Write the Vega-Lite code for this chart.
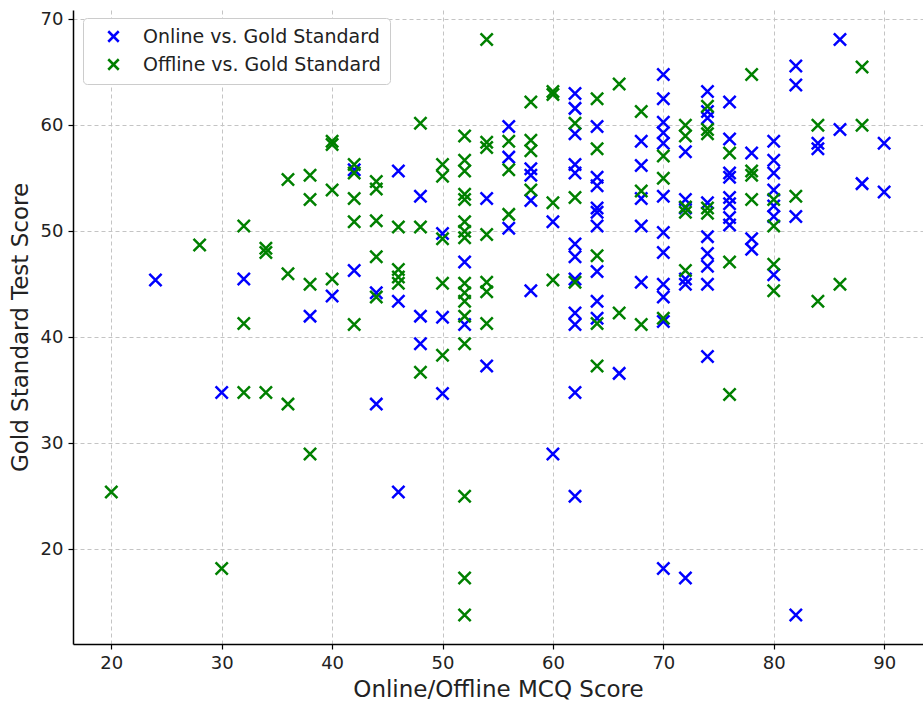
{
  "$schema": "https://vega.github.io/schema/vega-lite/v6.json",
  "width": 850,
  "height": 634,
  "autosize": {"type": "none"},
  "padding": {"left": 73, "top": 10, "right": 0, "bottom": 62},
  "background": "white",
  "config": {
    "view": {"stroke": null},
    "font": "DejaVu Sans",
    "axis": {
      "domainColor": "#000000",
      "domainWidth": 1.5,
      "tickColor": "#000000",
      "tickSize": 5,
      "tickWidth": 1.2,
      "gridColor": "#c4c4c4",
      "gridDash": [4, 3],
      "gridWidth": 1,
      "labelFont": "DejaVu Sans",
      "labelFontSize": 18,
      "labelColor": "#222222",
      "titleFont": "DejaVu Sans",
      "titleFontSize": 23,
      "titleFontWeight": "normal",
      "titleColor": "#222222"
    }
  },
  "datasets": {
    "pts": [
      {"series":"Online","x":24,"y":45.4},
      {"series":"Online","x":30,"y":34.8},
      {"series":"Online","x":32,"y":45.5},
      {"series":"Online","x":38,"y":42.0},
      {"series":"Online","x":40,"y":43.9},
      {"series":"Online","x":42,"y":55.8},
      {"series":"Online","x":42,"y":46.3},
      {"series":"Online","x":44,"y":44.2},
      {"series":"Online","x":44,"y":33.7},
      {"series":"Online","x":46,"y":55.7},
      {"series":"Online","x":46,"y":43.4},
      {"series":"Online","x":46,"y":25.4},
      {"series":"Online","x":48,"y":53.3},
      {"series":"Online","x":48,"y":42.0},
      {"series":"Online","x":48,"y":39.4},
      {"series":"Online","x":50,"y":49.8},
      {"series":"Online","x":50,"y":41.9},
      {"series":"Online","x":50,"y":34.7},
      {"series":"Online","x":52,"y":47.1},
      {"series":"Online","x":52,"y":41.2},
      {"series":"Online","x":54,"y":53.1},
      {"series":"Online","x":54,"y":37.3},
      {"series":"Online","x":56,"y":59.9},
      {"series":"Online","x":56,"y":57.0},
      {"series":"Online","x":56,"y":50.3},
      {"series":"Online","x":58,"y":55.9},
      {"series":"Online","x":58,"y":55.3},
      {"series":"Online","x":58,"y":52.9},
      {"series":"Online","x":58,"y":44.4},
      {"series":"Online","x":60,"y":50.9},
      {"series":"Online","x":60,"y":29.0},
      {"series":"Online","x":62,"y":63.0},
      {"series":"Online","x":62,"y":61.6},
      {"series":"Online","x":62,"y":59.2},
      {"series":"Online","x":62,"y":56.3},
      {"series":"Online","x":62,"y":55.5},
      {"series":"Online","x":62,"y":48.8},
      {"series":"Online","x":62,"y":47.6},
      {"series":"Online","x":62,"y":45.5},
      {"series":"Online","x":62,"y":42.3},
      {"series":"Online","x":62,"y":41.2},
      {"series":"Online","x":62,"y":34.8},
      {"series":"Online","x":62,"y":25.0},
      {"series":"Online","x":64,"y":59.9},
      {"series":"Online","x":64,"y":55.1},
      {"series":"Online","x":64,"y":54.3},
      {"series":"Online","x":64,"y":52.2},
      {"series":"Online","x":64,"y":51.8},
      {"series":"Online","x":64,"y":50.5},
      {"series":"Online","x":64,"y":46.2},
      {"series":"Online","x":64,"y":43.4},
      {"series":"Online","x":64,"y":41.8},
      {"series":"Online","x":66,"y":36.6},
      {"series":"Online","x":68,"y":58.5},
      {"series":"Online","x":68,"y":56.2},
      {"series":"Online","x":68,"y":53.1},
      {"series":"Online","x":68,"y":50.5},
      {"series":"Online","x":68,"y":45.2},
      {"series":"Online","x":70,"y":64.8},
      {"series":"Online","x":70,"y":62.5},
      {"series":"Online","x":70,"y":60.3},
      {"series":"Online","x":70,"y":59.3},
      {"series":"Online","x":70,"y":58.3},
      {"series":"Online","x":70,"y":53.3},
      {"series":"Online","x":70,"y":49.9},
      {"series":"Online","x":70,"y":48.0},
      {"series":"Online","x":70,"y":45.0},
      {"series":"Online","x":70,"y":43.8},
      {"series":"Online","x":70,"y":41.5},
      {"series":"Online","x":70,"y":18.2},
      {"series":"Online","x":72,"y":57.5},
      {"series":"Online","x":72,"y":53.0},
      {"series":"Online","x":72,"y":52.2},
      {"series":"Online","x":72,"y":45.5},
      {"series":"Online","x":72,"y":45.0},
      {"series":"Online","x":72,"y":17.3},
      {"series":"Online","x":74,"y":63.2},
      {"series":"Online","x":74,"y":61.3},
      {"series":"Online","x":74,"y":60.7},
      {"series":"Online","x":74,"y":52.7},
      {"series":"Online","x":74,"y":49.5},
      {"series":"Online","x":74,"y":47.9},
      {"series":"Online","x":74,"y":46.7},
      {"series":"Online","x":74,"y":45.0},
      {"series":"Online","x":74,"y":38.2},
      {"series":"Online","x":76,"y":62.2},
      {"series":"Online","x":76,"y":58.7},
      {"series":"Online","x":76,"y":55.5},
      {"series":"Online","x":76,"y":55.1},
      {"series":"Online","x":76,"y":53.2},
      {"series":"Online","x":76,"y":52.6},
      {"series":"Online","x":76,"y":51.3},
      {"series":"Online","x":76,"y":50.6},
      {"series":"Online","x":78,"y":57.4},
      {"series":"Online","x":78,"y":49.3},
      {"series":"Online","x":78,"y":48.3},
      {"series":"Online","x":80,"y":58.5},
      {"series":"Online","x":80,"y":56.7},
      {"series":"Online","x":80,"y":55.5},
      {"series":"Online","x":80,"y":53.9},
      {"series":"Online","x":80,"y":52.4},
      {"series":"Online","x":80,"y":51.4},
      {"series":"Online","x":80,"y":45.9},
      {"series":"Online","x":82,"y":65.6},
      {"series":"Online","x":82,"y":63.8},
      {"series":"Online","x":82,"y":51.4},
      {"series":"Online","x":82,"y":13.8},
      {"series":"Online","x":84,"y":58.3},
      {"series":"Online","x":84,"y":57.8},
      {"series":"Online","x":86,"y":68.1},
      {"series":"Online","x":86,"y":59.6},
      {"series":"Online","x":88,"y":54.5},
      {"series":"Online","x":90,"y":58.3},
      {"series":"Online","x":90,"y":53.7},
      {"series":"Offline","x":20,"y":25.4},
      {"series":"Offline","x":28,"y":48.7},
      {"series":"Offline","x":30,"y":18.2},
      {"series":"Offline","x":32,"y":50.5},
      {"series":"Offline","x":32,"y":41.3},
      {"series":"Offline","x":32,"y":34.8},
      {"series":"Offline","x":34,"y":48.4},
      {"series":"Offline","x":34,"y":48.0},
      {"series":"Offline","x":34,"y":34.8},
      {"series":"Offline","x":36,"y":54.9},
      {"series":"Offline","x":36,"y":46.0},
      {"series":"Offline","x":36,"y":33.7},
      {"series":"Offline","x":38,"y":55.3},
      {"series":"Offline","x":38,"y":53.0},
      {"series":"Offline","x":38,"y":45.0},
      {"series":"Offline","x":38,"y":29.0},
      {"series":"Offline","x":40,"y":58.5},
      {"series":"Offline","x":40,"y":58.2},
      {"series":"Offline","x":40,"y":53.9},
      {"series":"Offline","x":40,"y":45.5},
      {"series":"Offline","x":42,"y":56.3},
      {"series":"Offline","x":42,"y":55.5},
      {"series":"Offline","x":42,"y":53.1},
      {"series":"Offline","x":42,"y":50.9},
      {"series":"Offline","x":42,"y":41.2},
      {"series":"Offline","x":44,"y":54.7},
      {"series":"Offline","x":44,"y":54.0},
      {"series":"Offline","x":44,"y":51.0},
      {"series":"Offline","x":44,"y":47.6},
      {"series":"Offline","x":44,"y":43.8},
      {"series":"Offline","x":46,"y":50.4},
      {"series":"Offline","x":46,"y":46.4},
      {"series":"Offline","x":46,"y":45.7},
      {"series":"Offline","x":46,"y":45.1},
      {"series":"Offline","x":48,"y":60.2},
      {"series":"Offline","x":48,"y":50.4},
      {"series":"Offline","x":48,"y":36.7},
      {"series":"Offline","x":50,"y":56.3},
      {"series":"Offline","x":50,"y":55.2},
      {"series":"Offline","x":50,"y":49.3},
      {"series":"Offline","x":50,"y":45.1},
      {"series":"Offline","x":50,"y":38.3},
      {"series":"Offline","x":52,"y":59.0},
      {"series":"Offline","x":52,"y":56.7},
      {"series":"Offline","x":52,"y":55.7},
      {"series":"Offline","x":52,"y":53.5},
      {"series":"Offline","x":52,"y":53.0},
      {"series":"Offline","x":52,"y":50.9},
      {"series":"Offline","x":52,"y":50.0},
      {"series":"Offline","x":52,"y":49.4},
      {"series":"Offline","x":52,"y":45.1},
      {"series":"Offline","x":52,"y":44.2},
      {"series":"Offline","x":52,"y":43.4},
      {"series":"Offline","x":52,"y":42.0},
      {"series":"Offline","x":52,"y":39.4},
      {"series":"Offline","x":52,"y":25.0},
      {"series":"Offline","x":52,"y":17.3},
      {"series":"Offline","x":52,"y":13.8},
      {"series":"Offline","x":54,"y":68.1},
      {"series":"Offline","x":54,"y":58.4},
      {"series":"Offline","x":54,"y":57.9},
      {"series":"Offline","x":54,"y":49.7},
      {"series":"Offline","x":54,"y":45.2},
      {"series":"Offline","x":54,"y":44.3},
      {"series":"Offline","x":54,"y":41.3},
      {"series":"Offline","x":56,"y":58.5},
      {"series":"Offline","x":56,"y":55.8},
      {"series":"Offline","x":56,"y":51.6},
      {"series":"Offline","x":58,"y":62.2},
      {"series":"Offline","x":58,"y":58.6},
      {"series":"Offline","x":58,"y":57.6},
      {"series":"Offline","x":58,"y":53.9},
      {"series":"Offline","x":60,"y":63.2},
      {"series":"Offline","x":60,"y":62.9},
      {"series":"Offline","x":60,"y":52.7},
      {"series":"Offline","x":60,"y":45.4},
      {"series":"Offline","x":62,"y":60.2},
      {"series":"Offline","x":62,"y":53.2},
      {"series":"Offline","x":62,"y":45.2},
      {"series":"Offline","x":64,"y":62.5},
      {"series":"Offline","x":64,"y":57.8},
      {"series":"Offline","x":64,"y":47.7},
      {"series":"Offline","x":64,"y":41.3},
      {"series":"Offline","x":64,"y":37.3},
      {"series":"Offline","x":66,"y":63.9},
      {"series":"Offline","x":66,"y":42.3},
      {"series":"Offline","x":68,"y":61.3},
      {"series":"Offline","x":68,"y":53.8},
      {"series":"Offline","x":68,"y":41.2},
      {"series":"Offline","x":70,"y":57.1},
      {"series":"Offline","x":70,"y":55.0},
      {"series":"Offline","x":70,"y":41.8},
      {"series":"Offline","x":72,"y":60.0},
      {"series":"Offline","x":72,"y":59.0},
      {"series":"Offline","x":72,"y":52.3},
      {"series":"Offline","x":72,"y":51.8},
      {"series":"Offline","x":72,"y":46.3},
      {"series":"Offline","x":74,"y":61.8},
      {"series":"Offline","x":74,"y":59.6},
      {"series":"Offline","x":74,"y":59.2},
      {"series":"Offline","x":74,"y":52.2},
      {"series":"Offline","x":74,"y":51.7},
      {"series":"Offline","x":76,"y":57.4},
      {"series":"Offline","x":76,"y":47.1},
      {"series":"Offline","x":76,"y":34.6},
      {"series":"Offline","x":78,"y":64.8},
      {"series":"Offline","x":78,"y":55.7},
      {"series":"Offline","x":78,"y":55.3},
      {"series":"Offline","x":78,"y":53.0},
      {"series":"Offline","x":80,"y":53.0},
      {"series":"Offline","x":80,"y":50.5},
      {"series":"Offline","x":80,"y":46.9},
      {"series":"Offline","x":80,"y":44.4},
      {"series":"Offline","x":82,"y":53.3},
      {"series":"Offline","x":84,"y":60.0},
      {"series":"Offline","x":84,"y":43.4},
      {"series":"Offline","x":86,"y":45.0},
      {"series":"Offline","x":88,"y":65.5},
      {"series":"Offline","x":88,"y":60.0}
    ]
  },
  "data": {"name": "pts"},
  "mark": {
    "type": "point",
    "shape": "M-1,-1L1,1M1,-1L-1,1",
    "filled": false,
    "strokeWidth": 2.5,
    "opacity": 1,
    "size": 150,
    "clip": true
  },
  "encoding": {
    "x": {
      "field": "x",
      "type": "quantitative",
      "scale": {"domain": [16.53, 93.52], "nice": false, "zero": false},
      "axis": {
        "title": "Online/Offline MCQ Score",
        "values": [20, 30, 40, 50, 60, 70, 80, 90],
        "labelPadding": 5,
        "titlePadding": 6
      }
    },
    "y": {
      "field": "y",
      "type": "quantitative",
      "scale": {"domain": [11.07, 70.88], "nice": false, "zero": false},
      "axis": {
        "title": "Gold Standard Test Score",
        "values": [20, 30, 40, 50, 60, 70],
        "labelPadding": 5,
        "titlePadding": 8
      }
    },
    "color": {
      "field": "series",
      "type": "nominal",
      "sort": ["Online", "Offline"],
      "scale": {"domain": ["Online", "Offline"], "range": ["#0000ff", "#008000"]},
      "legend": {
        "title": null,
        "orient": "none",
        "legendX": 10,
        "legendY": 8,
        "labelExpr": "datum.label + ' vs. Gold Standard'",
        "labelFont": "DejaVu Sans",
        "labelFontSize": 19,
        "labelLimit": 0,
        "labelColor": "#222222",
        "symbolType": "M-1,-1L1,1M1,-1L-1,1",
        "symbolSize": 110,
        "symbolStrokeWidth": 2.5,
        "symbolOffset": 12,
        "labelOffset": 20,
        "rowPadding": 7,
        "padding": 9,
        "strokeColor": "#cccccc",
        "fillColor": "white",
        "cornerRadius": 4
      }
    }
  }
}
